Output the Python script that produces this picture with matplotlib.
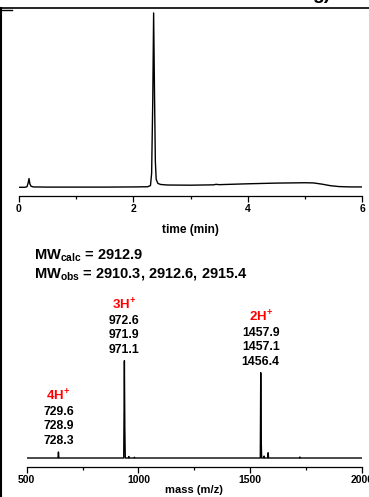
import matplotlib
matplotlib.use("Agg")
import matplotlib.pyplot as plt
from matplotlib.lines import Line2D
from matplotlib.ticker import MultipleLocator

plt.rcParams['font.family'] = ['Liberation Sans', 'DejaVu Sans']
plt.rcParams['font.weight'] = 'bold'
plt.rcParams['mathtext.default'] = 'regular'

# --- cromatograma (tiempo en min, señal relativa) ---
t = [0.00, 0.10, 0.14, 0.16, 0.175, 0.19, 0.21, 0.25, 0.5, 1.0, 1.5, 2.0,
     2.25, 2.30, 2.32, 2.34, 2.355, 2.37, 2.385, 2.40, 2.43, 2.48, 2.6,
     3.0, 3.4, 3.45, 3.5, 4.0, 4.5, 5.0, 5.15, 5.3, 5.45, 5.6, 5.8, 6.0]
senal = [0.0, 0.0, 0.3, 2.5, 5.0, 2.0, 0.6, 0.2, 0.1, 0.1, 0.1, 0.2,
         0.3, 1.0, 8.0, 50.0, 100.0, 55.0, 15.0, 4.5, 2.2, 1.6, 1.3,
         1.2, 1.4, 1.7, 1.5, 2.0, 2.4, 2.6, 2.5, 1.8, 0.9, 0.4, 0.2, 0.2]

# --- espectro de masas (m/z, intensidad relativa) ---
mz = [500, 640, 642, 644, 934, 936, 937, 939, 941, 955, 957, 959, 980, 982,
      984, 1545, 1547, 1549, 1551, 1560, 1562, 1564, 1578, 1580, 1582, 1720,
      1722, 1724, 2000]
inten = [0, 0, 6.2, 0, 0, 60, 100, 30, 0, 0, 1.5, 0, 0, 0.8,
         0, 0, 87.7, 20, 0, 0, 2.0, 0, 0, 5.4, 0, 0,
         1.0, 0, 0]

# picos etiquetados: posicion, altura, carga, valores m/z
picos_mz = [642, 937, 1547]
picos_int = [6.2, 100, 87.7]
cargas = ['4H$^{+}$', '3H$^{+}$', '2H$^{+}$']
valores = [['729.6', '728.9', '728.3'],
           ['972.6', '971.9', '971.1'],
           ['1457.9', '1457.1', '1456.4']]

mw_calc = '2912.9'
mw_obs = ['2910.3', '2912.6', '2915.4']

fig = plt.figure(figsize=(3.69, 4.97), dpi=100)

# Eje superior: cromatograma
ax1 = fig.add_axes([19/369, 1-196/497, 343/369, 185/497])
ax1.plot(t, senal, color='black', lw=1.0)
ax1.set_xlim(0, 6)
ax1.set_ylim(-5.0, 101.1)
ax1.set_xlabel('time (min)', fontsize=8.6, fontweight='bold', labelpad=7)

# Eje inferior: espectro de masas
ax2 = fig.add_axes([26.7/369, 1-466.7/497, 335.3/369, 216.7/497])
ax2.plot(mz, inten, color='black', lw=1.0)
ax2.set_xlim(500, 2000)
ax2.set_ylim(-8.94, 213.8)
ax2.set_xlabel('mass (m/z)', fontsize=8, fontweight='bold', labelpad=0)

for ax, maj, mnr in [(ax1, 2, 1), (ax2, 500, 250)]:
    for s in ['left', 'top', 'right']:
        ax.spines[s].set_visible(False)
    ax.spines['bottom'].set_linewidth(0.9)
    ax.set_yticks([])
    ax.xaxis.set_major_locator(MultipleLocator(maj))
    ax.xaxis.set_minor_locator(MultipleLocator(mnr))
    ax.tick_params(axis='x', which='major', direction='out', length=4,
                   width=0.9, labelsize=7.5, pad=2)
    ax.tick_params(axis='x', which='minor', direction='out', length=2,
                   width=0.9)
    ax.patch.set_visible(False)

# Etiquetas de los picos
for x, y, c, vals in zip(picos_mz, picos_int, cargas, valores):
    ax2.annotate(c, (x, y), xytext=(0, 56), textcoords='offset pixels',
                 ha='center', va='center', color='red', fontsize=9.5,
                 fontweight='bold')
    for v, off in zip(vals, [40, 25.5, 11]):
        ax2.annotate(v, (x, y), xytext=(0, off), textcoords='offset pixels',
                     ha='center', va='center', color='black', fontsize=8.8,
                     fontweight='bold')

fig.text(34/369, 1-260/497, 'MW$_{calc}$ = ' + mw_calc, fontsize=10.5,
         fontweight='bold', va='baseline')
fig.text(34/369, 1-277/497, 'MW$_{obs}$ = ' + ', '.join(mw_obs),
         fontsize=10.5, fontweight='bold', va='baseline')

# Marco y etiqueta del panel (recortados)
fig.add_artist(Line2D([0, 1], [1-8/497, 1-8/497], color='black', lw=1.2))
fig.add_artist(Line2D([0.7/369, 0.7/369], [0, 1-8/497], color='black', lw=1.5))
fig.add_artist(Line2D([0, 12/369], [1-10/497, 1-10/497], color='black', lw=1.0))
fig.text(312/369, 1+1/497, 'g)', fontsize=14, va='baseline')

fig.savefig('out.png', dpi=100)
